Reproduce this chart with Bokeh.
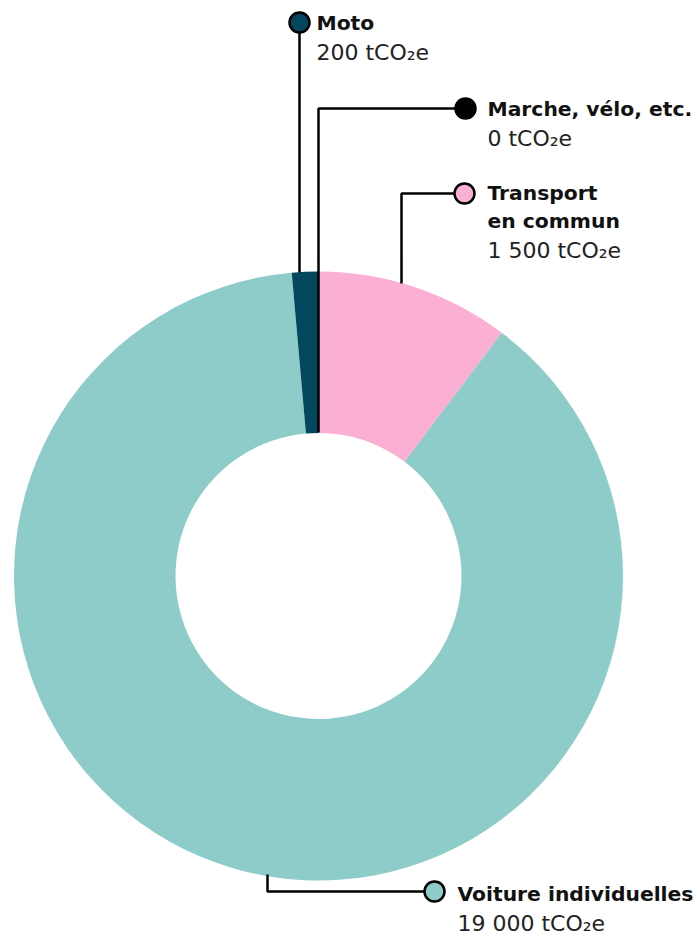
import math
from bokeh.plotting import figure
from bokeh.models import Range1d, ColumnDataSource
from bokeh.core.properties import value
from bokeh.embed import file_html
from bokeh.resources import INLINE

# ---- data (clockwise from 12 o'clock) ----
categories = ["Transport en commun", "Voiture individuelles", "Moto", "Marche, vélo, etc."]
# arc sizes (tCO2e)
arc_values = [2200, 18900, 300, 0]
value_labels = ["1 500 tCO₂e", "19 000 tCO₂e", "200 tCO₂e", "0 tCO₂e"]
name_lines = [["Transport", "en commun"], ["Voiture individuelles"], ["Moto"], ["Marche, vélo, etc."]]
colors = ["#FBAFD3", "#8DCCC9", "#03475F", "#000000"]

W, H = 700, 938
p = figure(width=W, height=H, output_backend="svg", toolbar_location=None,
           x_range=Range1d(0, W), y_range=Range1d(-H, 0),
           min_border=0, outline_line_color=None)
p.axis.visible = False
p.grid.visible = False
p.background_fill_color = "white"
p.border_fill_color = "white"

def Y(py):
    return -py

cx, cy = 318, 575.5
r_out, r_in = 304.5, 143

total = sum(arc_values)
starts, ends, wcols = [], [], []
cum = 0.0
for v, c in zip(arc_values, colors):
    a0 = math.pi / 2 - 2 * math.pi * cum / total
    cum += v
    a1 = math.pi / 2 - 2 * math.pi * cum / total
    if v > 0:
        starts.append(a0)
        ends.append(a1)
        wcols.append(c)

src = ColumnDataSource(dict(start=starts, end=ends, color=wcols))
p.annular_wedge(x=cx, y=Y(cy), inner_radius=r_in, outer_radius=r_out,
                start_angle="start", end_angle="end", direction="clock",
                fill_color="color", line_color=None, source=src)

# ---- leader lines and markers (annotation layout) ----
LW = 2.5
# Transport
p.line([401, 401, 462], [Y(283), Y(193), Y(193)], line_color="black", line_width=LW)
# Voiture
p.line([267, 267, 432], [Y(874), Y(891), Y(891)], line_color="black", line_width=LW)
# Moto
p.line([299, 299], [Y(272), Y(22)], line_color="black", line_width=LW)
# Marche
p.line([318, 318, 463], [Y(432), Y(108), Y(108)], line_color="black", line_width=LW)

marker_pos = [(464, 193), (434, 891), (299, 22), (465, 108)]
p.scatter(x=[m[0] for m in marker_pos], y=[Y(m[1]) for m in marker_pos],
          size=20, fill_color=colors, line_color="black", line_width=2.5)

# ---- labels ----
label_pos = [(487, 192), (457, 893), (316, 22), (487, 108)]
LINE = 28.5
bx, by, bt = [], [], []
rx, ry, rt = [], [], []
for (lx, ly), names, vl in zip(label_pos, name_lines, value_labels):
    for i, n in enumerate(names):
        bx.append(lx); by.append(Y(ly + i * LINE)); bt.append(n)
    rx.append(lx); ry.append(Y(ly + len(names) * LINE + 1)); rt.append(vl)

p.text(x=bx, y=by, text=bt, text_font=value("DejaVu Sans"), text_font_style="bold",
       text_font_size="20.3px", text_color="#111111", text_baseline="middle", text_align="left")
p.text(x=rx, y=ry, text=rt, text_font=value("DejaVu Sans"), text_font_style="normal",
       text_font_size="22px", text_color="#222222", text_baseline="middle", text_align="left")

open("out.html", "w").write(file_html(p, INLINE))
